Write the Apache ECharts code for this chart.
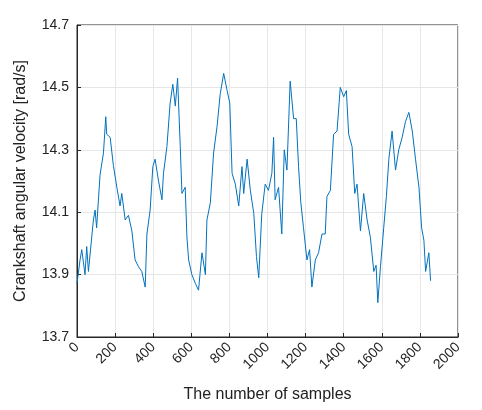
<!DOCTYPE html>
<html>
<head>
<meta charset="utf-8">
<script src="https://cdn.jsdelivr.net/npm/echarts@6/dist/echarts.min.js"></script>
<style>html,body{margin:0;background:#fff}#chart{width:482px;height:410px}</style>
</head>
<body>
<div id="chart"></div>
<script>
// sample index / angular velocity
var samples = [0,16,25,42,51,60,86,95,103,121,139,151,156,174,191,209,226,235,253,270,288,305,323,340,358,367,384,398,410,428,446,454,472,489,503,516,528,542,551,568,577,586,603,621,638,656,674,682,700,717,735,752,770,788,802,814,831,849,866,875,893,910,928,942,954,
  970,988,1005,1023,1032,1040,1058,1075,1088,1102,1119,1137,1151,1163,1175,1189,1207,1221,1233,1251,1268,1286,1303,1312,1330,1347,1365,1382,1400,1414,1426,1444,1458,1470,1488,1505,1523,1540,1558,1570,1579,1593,1610,1624,1637,1654,1672,1689,1707,1724,1742,1760,1777,1795,1809,1821,1830,1847,1856];
var velocity = [13.872,13.947,13.98,13.90,13.99,13.91,14.075,14.107,14.05,14.22,14.29,14.406,14.35,14.34,14.25,14.18,14.12,14.16,14.075,14.09,14.04,13.947,13.925,13.91,13.86,14.03,14.107,14.246,14.27,14.20,14.14,14.225,14.31,14.45,14.51,14.44,14.53,14.31,14.16,14.18,14.02,13.947,13.90,13.872,13.85,13.97,13.90,14.075,14.13,14.29,14.374,14.48,14.545,14.49,14.45,14.225,14.19,14.12,14.246,14.16,14.27,14.17,14.096,13.958,13.89,
  14.096,14.19,14.17,14.225,14.34,14.14,14.18,14.03,14.30,14.235,14.52,14.40,14.40,14.246,14.13,14.05,13.947,13.98,13.86,13.947,13.97,14.03,14.03,14.15,14.17,14.35,14.36,14.50,14.47,14.49,14.35,14.31,14.16,14.19,14.04,14.16,14.075,14.02,13.91,13.93,13.81,13.925,14.05,14.15,14.27,14.36,14.235,14.30,14.34,14.39,14.42,14.36,14.27,14.18,14.05,14.01,13.91,13.97,13.88];

var points = samples.map(function (s, i) { return [s, velocity[i]]; });
var font = 'Liberation Sans';
var chart = echarts.init(document.getElementById('chart'));
chart.setOption({
    animation: false,
    grid: { left: 77, right: 24, top: 25, bottom: 73, show: true, borderColor: '#262626', borderWidth: 1 },
    xAxis: {
        type: 'value', min: 0, max: 2000, interval: 200,
        name: 'The number of samples', nameLocation: 'middle', nameGap: 50,
        nameTextStyle: { fontFamily: font, fontSize: 16, color: '#222' },
        axisLine: { lineStyle: { color: '#262626' } },
        axisTick: { inside: true, length: 4, lineStyle: { color: '#262626' } },
        axisLabel: { rotate: 45, fontFamily: font, fontSize: 14, color: '#222', margin: 8,
            formatter: function (v) { return String(v); } },
        splitLine: { lineStyle: { color: '#e6e6e6' } }
    },
    yAxis: {
        type: 'value', min: 13.7, max: 14.7, interval: 0.2,
        name: 'Crankshaft angular velocity [rad/s]', nameLocation: 'middle', nameGap: 48,
        nameTextStyle: { fontFamily: font, fontSize: 16, color: '#222' },
        axisLine: { lineStyle: { color: '#262626' } },
        axisTick: { inside: true, length: 4, lineStyle: { color: '#262626' } },
        axisLabel: { fontFamily: font, fontSize: 14, color: '#222',
            formatter: function (v) { return v.toFixed(1); } },
        splitLine: { lineStyle: { color: '#e6e6e6' } }
    },
    series: [{
        type: 'line', data: points, showSymbol: false,
        lineStyle: { color: '#0072BD', width: 1 }
    }]
});
</script>
</body>
</html>
